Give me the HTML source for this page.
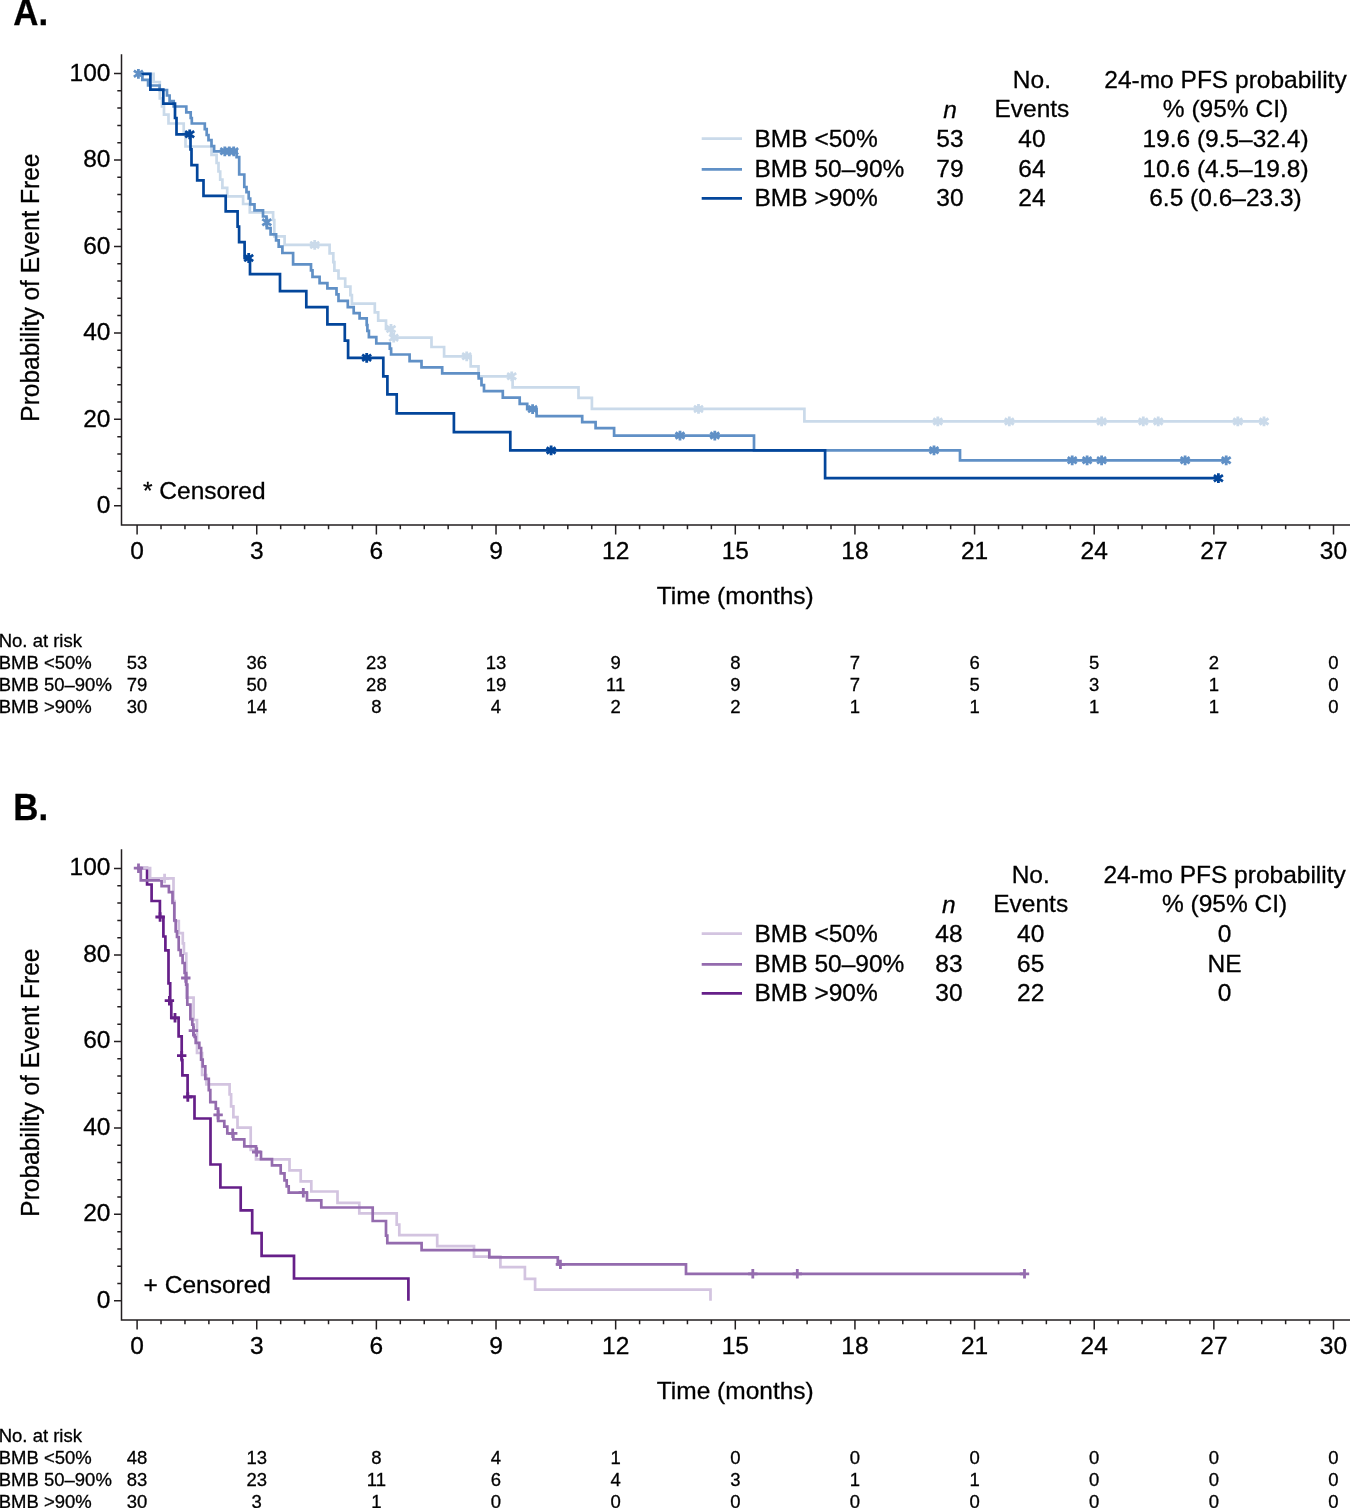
<!DOCTYPE html>
<html><head><meta charset="utf-8"><style>
html,body{margin:0;padding:0;background:#fff;width:1350px;height:1508px;overflow:hidden}
svg{display:block;will-change:transform}
text{fill:#000;stroke:#000;stroke-width:0.3px}
</style></head><body>
<svg width="1350" height="1508" viewBox="0 0 1350 1508">
<text transform="translate(13.2 25.2) scale(0.93 1)" font-size="37.5" font-weight="bold" font-family="Liberation Sans, sans-serif">A.</text>
<path d="M121.5 55.0 V525.0 H1350" fill="none" stroke="#231f20" stroke-width="1.5" stroke-linecap="square"/>
<path d="M114.0 505.80H121.5M117.3 488.51H121.5M117.3 471.22H121.5M117.3 453.92H121.5M117.3 436.63H121.5M114.0 419.34H121.5M117.3 402.05H121.5M117.3 384.76H121.5M117.3 367.46H121.5M117.3 350.17H121.5M114.0 332.88H121.5M117.3 315.59H121.5M117.3 298.30H121.5M117.3 281.00H121.5M117.3 263.71H121.5M114.0 246.42H121.5M117.3 229.13H121.5M117.3 211.84H121.5M117.3 194.54H121.5M117.3 177.25H121.5M114.0 159.96H121.5M117.3 142.67H121.5M117.3 125.38H121.5M117.3 108.08H121.5M117.3 90.79H121.5M114.0 73.50H121.5M137.10 525.0V534.40M161.03 525.0V529.30M184.96 525.0V529.30M208.88 525.0V529.30M232.81 525.0V529.30M256.74 525.0V534.40M280.67 525.0V529.30M304.60 525.0V529.30M328.52 525.0V529.30M352.45 525.0V529.30M376.38 525.0V534.40M400.31 525.0V529.30M424.24 525.0V529.30M448.16 525.0V529.30M472.09 525.0V529.30M496.02 525.0V534.40M519.95 525.0V529.30M543.88 525.0V529.30M567.80 525.0V529.30M591.73 525.0V529.30M615.66 525.0V534.40M639.59 525.0V529.30M663.52 525.0V529.30M687.44 525.0V529.30M711.37 525.0V529.30M735.30 525.0V534.40M759.23 525.0V529.30M783.16 525.0V529.30M807.08 525.0V529.30M831.01 525.0V529.30M854.94 525.0V534.40M878.87 525.0V529.30M902.80 525.0V529.30M926.72 525.0V529.30M950.65 525.0V529.30M974.58 525.0V534.40M998.51 525.0V529.30M1022.44 525.0V529.30M1046.36 525.0V529.30M1070.29 525.0V529.30M1094.22 525.0V534.40M1118.15 525.0V529.30M1142.08 525.0V529.30M1166.00 525.0V529.30M1189.93 525.0V529.30M1213.86 525.0V534.40M1237.79 525.0V529.30M1261.72 525.0V529.30M1285.64 525.0V529.30M1309.57 525.0V529.30M1333.50 525.0V534.40" stroke="#231f20" stroke-width="1.5" fill="none"/>
<text x="110.5" y="513.1" font-size="24.5" text-anchor="end" font-family="Liberation Sans, sans-serif">0</text>
<text x="110.5" y="426.6" font-size="24.5" text-anchor="end" font-family="Liberation Sans, sans-serif">20</text>
<text x="110.5" y="340.2" font-size="24.5" text-anchor="end" font-family="Liberation Sans, sans-serif">40</text>
<text x="110.5" y="253.7" font-size="24.5" text-anchor="end" font-family="Liberation Sans, sans-serif">60</text>
<text x="110.5" y="167.3" font-size="24.5" text-anchor="end" font-family="Liberation Sans, sans-serif">80</text>
<text x="110.5" y="80.8" font-size="24.5" text-anchor="end" font-family="Liberation Sans, sans-serif">100</text>
<text x="137.1" y="558.9" font-size="24.5" text-anchor="middle" font-family="Liberation Sans, sans-serif">0</text>
<text x="256.7" y="558.9" font-size="24.5" text-anchor="middle" font-family="Liberation Sans, sans-serif">3</text>
<text x="376.4" y="558.9" font-size="24.5" text-anchor="middle" font-family="Liberation Sans, sans-serif">6</text>
<text x="496.0" y="558.9" font-size="24.5" text-anchor="middle" font-family="Liberation Sans, sans-serif">9</text>
<text x="615.7" y="558.9" font-size="24.5" text-anchor="middle" font-family="Liberation Sans, sans-serif">12</text>
<text x="735.3" y="558.9" font-size="24.5" text-anchor="middle" font-family="Liberation Sans, sans-serif">15</text>
<text x="854.9" y="558.9" font-size="24.5" text-anchor="middle" font-family="Liberation Sans, sans-serif">18</text>
<text x="974.6" y="558.9" font-size="24.5" text-anchor="middle" font-family="Liberation Sans, sans-serif">21</text>
<text x="1094.2" y="558.9" font-size="24.5" text-anchor="middle" font-family="Liberation Sans, sans-serif">24</text>
<text x="1213.9" y="558.9" font-size="24.5" text-anchor="middle" font-family="Liberation Sans, sans-serif">27</text>
<text x="1333.5" y="558.9" font-size="24.5" text-anchor="middle" font-family="Liberation Sans, sans-serif">30</text>
<text x="735.3" y="604.0" font-size="24.5" text-anchor="middle" font-family="Liberation Sans, sans-serif">Time (months)</text>
<text transform="translate(39.2 287.6) rotate(-90) scale(0.965 1)" font-size="25.4" text-anchor="middle" font-family="Liberation Sans, sans-serif">Probability of Event Free</text>
<text x="143" y="499.1" font-size="24.5" font-family="Liberation Sans, sans-serif">* Censored</text>
<text x="1031.9" y="88" font-size="24.5" text-anchor="middle" font-family="Liberation Sans, sans-serif">No.</text>
<text x="1225.5" y="88" font-size="24.5" text-anchor="middle" font-family="Liberation Sans, sans-serif">24-mo PFS probability</text>
<text x="950" y="117.6" font-size="24.5" text-anchor="middle" font-style="italic" font-family="Liberation Sans, sans-serif">n</text>
<text x="1031.9" y="117.3" font-size="24.5" text-anchor="middle" font-family="Liberation Sans, sans-serif">Events</text>
<text x="1225.5" y="117.3" font-size="24.5" text-anchor="middle" font-family="Liberation Sans, sans-serif">% (95% CI)</text>
<path d="M701.7 138.55H742" stroke="#cadaea" stroke-width="2.7"/>
<text x="754.5" y="147.2" font-size="24.5" font-family="Liberation Sans, sans-serif">BMB &lt;50%</text>
<text x="950" y="147.2" font-size="24.5" text-anchor="middle" font-family="Liberation Sans, sans-serif">53</text>
<text x="1031.9" y="147.2" font-size="24.5" text-anchor="middle" font-family="Liberation Sans, sans-serif">40</text>
<text x="1225.5" y="147.2" font-size="24.5" text-anchor="middle" font-family="Liberation Sans, sans-serif">19.6 (9.5–32.4)</text>
<path d="M701.7 169.45H742" stroke="#6090c6" stroke-width="2.7"/>
<text x="754.5" y="176.6" font-size="24.5" font-family="Liberation Sans, sans-serif">BMB 50–90%</text>
<text x="950" y="176.6" font-size="24.5" text-anchor="middle" font-family="Liberation Sans, sans-serif">79</text>
<text x="1031.9" y="176.6" font-size="24.5" text-anchor="middle" font-family="Liberation Sans, sans-serif">64</text>
<text x="1225.5" y="176.6" font-size="24.5" text-anchor="middle" font-family="Liberation Sans, sans-serif">10.6 (4.5–19.8)</text>
<path d="M701.7 198.30H742" stroke="#03469b" stroke-width="2.7"/>
<text x="754.5" y="205.5" font-size="24.5" font-family="Liberation Sans, sans-serif">BMB &gt;90%</text>
<text x="950" y="205.5" font-size="24.5" text-anchor="middle" font-family="Liberation Sans, sans-serif">30</text>
<text x="1031.9" y="205.5" font-size="24.5" text-anchor="middle" font-family="Liberation Sans, sans-serif">24</text>
<text x="1225.5" y="205.5" font-size="24.5" text-anchor="middle" font-family="Liberation Sans, sans-serif">6.5 (0.6–23.3)</text>
<text x="-1.3" y="646.6" font-size="18.5" font-family="Liberation Sans, sans-serif">No. at risk</text>
<text x="-1.3" y="668.6" font-size="18.5" font-family="Liberation Sans, sans-serif">BMB &lt;50%</text>
<text x="137.1" y="668.6" font-size="18.5" text-anchor="middle" font-family="Liberation Sans, sans-serif">53</text>
<text x="256.7" y="668.6" font-size="18.5" text-anchor="middle" font-family="Liberation Sans, sans-serif">36</text>
<text x="376.4" y="668.6" font-size="18.5" text-anchor="middle" font-family="Liberation Sans, sans-serif">23</text>
<text x="496.0" y="668.6" font-size="18.5" text-anchor="middle" font-family="Liberation Sans, sans-serif">13</text>
<text x="615.7" y="668.6" font-size="18.5" text-anchor="middle" font-family="Liberation Sans, sans-serif">9</text>
<text x="735.3" y="668.6" font-size="18.5" text-anchor="middle" font-family="Liberation Sans, sans-serif">8</text>
<text x="854.9" y="668.6" font-size="18.5" text-anchor="middle" font-family="Liberation Sans, sans-serif">7</text>
<text x="974.6" y="668.6" font-size="18.5" text-anchor="middle" font-family="Liberation Sans, sans-serif">6</text>
<text x="1094.2" y="668.6" font-size="18.5" text-anchor="middle" font-family="Liberation Sans, sans-serif">5</text>
<text x="1213.9" y="668.6" font-size="18.5" text-anchor="middle" font-family="Liberation Sans, sans-serif">2</text>
<text x="1333.5" y="668.6" font-size="18.5" text-anchor="middle" font-family="Liberation Sans, sans-serif">0</text>
<text x="-1.3" y="690.7" font-size="18.5" font-family="Liberation Sans, sans-serif">BMB 50–90%</text>
<text x="137.1" y="690.7" font-size="18.5" text-anchor="middle" font-family="Liberation Sans, sans-serif">79</text>
<text x="256.7" y="690.7" font-size="18.5" text-anchor="middle" font-family="Liberation Sans, sans-serif">50</text>
<text x="376.4" y="690.7" font-size="18.5" text-anchor="middle" font-family="Liberation Sans, sans-serif">28</text>
<text x="496.0" y="690.7" font-size="18.5" text-anchor="middle" font-family="Liberation Sans, sans-serif">19</text>
<text x="615.7" y="690.7" font-size="18.5" text-anchor="middle" font-family="Liberation Sans, sans-serif">11</text>
<text x="735.3" y="690.7" font-size="18.5" text-anchor="middle" font-family="Liberation Sans, sans-serif">9</text>
<text x="854.9" y="690.7" font-size="18.5" text-anchor="middle" font-family="Liberation Sans, sans-serif">7</text>
<text x="974.6" y="690.7" font-size="18.5" text-anchor="middle" font-family="Liberation Sans, sans-serif">5</text>
<text x="1094.2" y="690.7" font-size="18.5" text-anchor="middle" font-family="Liberation Sans, sans-serif">3</text>
<text x="1213.9" y="690.7" font-size="18.5" text-anchor="middle" font-family="Liberation Sans, sans-serif">1</text>
<text x="1333.5" y="690.7" font-size="18.5" text-anchor="middle" font-family="Liberation Sans, sans-serif">0</text>
<text x="-1.3" y="712.6" font-size="18.5" font-family="Liberation Sans, sans-serif">BMB &gt;90%</text>
<text x="137.1" y="712.6" font-size="18.5" text-anchor="middle" font-family="Liberation Sans, sans-serif">30</text>
<text x="256.7" y="712.6" font-size="18.5" text-anchor="middle" font-family="Liberation Sans, sans-serif">14</text>
<text x="376.4" y="712.6" font-size="18.5" text-anchor="middle" font-family="Liberation Sans, sans-serif">8</text>
<text x="496.0" y="712.6" font-size="18.5" text-anchor="middle" font-family="Liberation Sans, sans-serif">4</text>
<text x="615.7" y="712.6" font-size="18.5" text-anchor="middle" font-family="Liberation Sans, sans-serif">2</text>
<text x="735.3" y="712.6" font-size="18.5" text-anchor="middle" font-family="Liberation Sans, sans-serif">2</text>
<text x="854.9" y="712.6" font-size="18.5" text-anchor="middle" font-family="Liberation Sans, sans-serif">1</text>
<text x="974.6" y="712.6" font-size="18.5" text-anchor="middle" font-family="Liberation Sans, sans-serif">1</text>
<text x="1094.2" y="712.6" font-size="18.5" text-anchor="middle" font-family="Liberation Sans, sans-serif">1</text>
<text x="1213.9" y="712.6" font-size="18.5" text-anchor="middle" font-family="Liberation Sans, sans-serif">1</text>
<text x="1333.5" y="712.6" font-size="18.5" text-anchor="middle" font-family="Liberation Sans, sans-serif">0</text>
<path d="M137.1 73.8H153.6V82.0H159.8V98.3H162.0V106.3H164.0V114.6H168.5V123.5H183.7V132.6H185.5V146.5H211.5V154.8H216.6V163.0H218.5V171.5H220.2V179.6H222.4V187.8H227.2V196.3H243.1V204.0H249.8V212.4H273.1V220.0H274.3V236.3H284.6V244.9H329.6V253.3H333.3V262.2H334.4V270.7H338.5V278.5H345.2V286.7H350.4V295.2H351.9V303.6H374.8V312.4H378.2V320.6H386.0V329.0H392.0V337.7H431.5V347.0H444.1V356.3H470.7V366.3H478.5V376.3H512.6V387.3H578.5V397.8H591.9V408.9H804.4V421.4H1264.0" fill="none" stroke="#cadaea" stroke-width="2.7" stroke-linejoin="miter" stroke-linecap="butt"/>
<path d="M137.1 73.8H142.4V79.9H148.1V85.5H159.6V90.0H167.0V95.5H169.6V101.0H173.7V106.5H186.3V112.4H190.7V118.0H191.8V123.5H204.8V129.1H206.7V135.0H208.5V140.2H211.5V146.1H214.1V151.3H236.6V157.2H239.2V174.5H244.3V187.0H246.5V192.2H248.7V198.5H250.2V204.4H254.5V210.4H263.0V216.5H266.5V222.2H266.8V228.1H270.6V234.4H276.1V240.4H278.7V246.7H282.4V253.0H293.1V264.4H311.0V270.4H312.5V276.8H319.6V283.1H327.4V288.3H336.5V294.4H338.5V300.9H347.8V307.2H353.7V313.1H359.6V318.3H366.7V325.0H367.4V330.9H368.9V337.2H376.3V343.5H389.8V348.7H391.1V354.5H409.6V361.1H421.5V367.4H442.2V373.4H478.7V378.5H481.5V385.2H484.0V391.2H502.8V397.6H519.7V403.8H527.2V409.1H536.6V416.2H582.2V422.2H595.6V428.1H614.1V435.6H754.0V450.3H960.0V460.3H1226.2" fill="none" stroke="#6090c6" stroke-width="2.7" stroke-linejoin="miter" stroke-linecap="butt"/>
<path d="M137.1 73.8H150.4V89.6H163.3V103.7H175.0V118.0H176.5V134.3H190.5V149.3H191.5V165.2H197.2V180.4H203.5V195.9H225.7V211.3H237.6V226.7H239.1V242.2H244.6V258.0H250.0V274.2H280.0V291.2H306.3V307.2H327.4V324.3H344.8V340.6H348.1V357.8H383.3V376.3H387.4V394.4H396.7V413.3H453.9V432.2H510.3V450.4H825.1V478.2H1218.4" fill="none" stroke="#03469b" stroke-width="2.7" stroke-linejoin="miter" stroke-linecap="butt"/>
<path d="M314.7 240.0V249.8M310.2 241.8L319.2 248.0M310.2 248.0L319.2 241.8M391.0 324.1V333.9M386.5 325.9L395.5 332.1M386.5 332.1L395.5 325.9M393.7 332.8V342.6M389.2 334.6L398.2 340.8M389.2 340.8L398.2 334.6M466.7 351.4V361.2M462.2 353.2L471.2 359.4M462.2 359.4L471.2 353.2M511.7 371.4V381.2M507.2 373.2L516.2 379.4M507.2 379.4L516.2 373.2M698.5 404.0V413.8M694.0 405.8L703.0 412.0M694.0 412.0L703.0 405.8M937.8 416.5V426.3M933.3 418.3L942.3 424.5M933.3 424.5L942.3 418.3M1009.3 416.5V426.3M1004.8 418.3L1013.8 424.5M1004.8 424.5L1013.8 418.3M1101.6 416.5V426.3M1097.1 418.3L1106.1 424.5M1097.1 424.5L1106.1 418.3M1143.3 416.5V426.3M1138.8 418.3L1147.8 424.5M1138.8 424.5L1147.8 418.3M1158.2 416.5V426.3M1153.7 418.3L1162.7 424.5M1153.7 424.5L1162.7 418.3M1237.8 416.5V426.3M1233.3 418.3L1242.3 424.5M1233.3 424.5L1242.3 418.3M1264.0 416.5V426.3M1259.5 418.3L1268.5 424.5M1259.5 424.5L1268.5 418.3" fill="none" stroke="#cadaea" stroke-width="2.8"/>
<path d="M138.4 68.9V78.7M133.9 70.7L142.9 76.9M133.9 76.9L142.9 70.7M224.8 146.4V156.2M220.3 148.2L229.3 154.4M220.3 154.4L229.3 148.2M229.3 146.4V156.2M224.8 148.2L233.8 154.4M224.8 154.4L233.8 148.2M233.7 146.4V156.2M229.2 148.2L238.2 154.4M229.2 154.4L238.2 148.2M266.8 217.4V227.2M262.3 219.2L271.3 225.4M262.3 225.4L271.3 219.2M532.6 404.2V414.0M528.1 406.0L537.1 412.2M528.1 412.2L537.1 406.0M680.0 430.7V440.5M675.5 432.5L684.5 438.7M675.5 438.7L684.5 432.5M714.8 430.7V440.5M710.3 432.5L719.3 438.7M710.3 438.7L719.3 432.5M934.0 445.4V455.2M929.5 447.2L938.5 453.4M929.5 453.4L938.5 447.2M1072.2 455.4V465.2M1067.7 457.2L1076.7 463.4M1067.7 463.4L1076.7 457.2M1087.1 455.4V465.2M1082.6 457.2L1091.6 463.4M1082.6 463.4L1091.6 457.2M1101.6 455.4V465.2M1097.1 457.2L1106.1 463.4M1097.1 463.4L1106.1 457.2M1185.1 455.4V465.2M1180.6 457.2L1189.6 463.4M1180.6 463.4L1189.6 457.2M1226.2 455.4V465.2M1221.7 457.2L1230.7 463.4M1221.7 463.4L1230.7 457.2" fill="none" stroke="#6090c6" stroke-width="2.8"/>
<path d="M189.7 129.4V139.2M185.2 131.2L194.2 137.4M185.2 137.4L194.2 131.2M248.7 253.1V262.9M244.2 254.9L253.2 261.1M244.2 261.1L253.2 254.9M366.7 352.9V362.7M362.2 354.7L371.2 360.9M362.2 360.9L371.2 354.7M551.1 445.5V455.3M546.6 447.3L555.6 453.5M546.6 453.5L555.6 447.3M1218.4 473.3V483.1M1213.9 475.1L1222.9 481.3M1213.9 481.3L1222.9 475.1" fill="none" stroke="#03469b" stroke-width="2.8"/>
<text transform="translate(13.2 820.2) scale(0.93 1)" font-size="37.5" font-weight="bold" font-family="Liberation Sans, sans-serif">B.</text>
<path d="M121.5 850.0 V1320.0 H1350" fill="none" stroke="#231f20" stroke-width="1.5" stroke-linecap="square"/>
<path d="M114.0 1300.80H121.5M117.3 1283.51H121.5M117.3 1266.22H121.5M117.3 1248.92H121.5M117.3 1231.63H121.5M114.0 1214.34H121.5M117.3 1197.05H121.5M117.3 1179.76H121.5M117.3 1162.46H121.5M117.3 1145.17H121.5M114.0 1127.88H121.5M117.3 1110.59H121.5M117.3 1093.30H121.5M117.3 1076.00H121.5M117.3 1058.71H121.5M114.0 1041.42H121.5M117.3 1024.13H121.5M117.3 1006.84H121.5M117.3 989.54H121.5M117.3 972.25H121.5M114.0 954.96H121.5M117.3 937.67H121.5M117.3 920.38H121.5M117.3 903.08H121.5M117.3 885.79H121.5M114.0 868.50H121.5M137.10 1320.0V1329.40M161.03 1320.0V1324.30M184.96 1320.0V1324.30M208.88 1320.0V1324.30M232.81 1320.0V1324.30M256.74 1320.0V1329.40M280.67 1320.0V1324.30M304.60 1320.0V1324.30M328.52 1320.0V1324.30M352.45 1320.0V1324.30M376.38 1320.0V1329.40M400.31 1320.0V1324.30M424.24 1320.0V1324.30M448.16 1320.0V1324.30M472.09 1320.0V1324.30M496.02 1320.0V1329.40M519.95 1320.0V1324.30M543.88 1320.0V1324.30M567.80 1320.0V1324.30M591.73 1320.0V1324.30M615.66 1320.0V1329.40M639.59 1320.0V1324.30M663.52 1320.0V1324.30M687.44 1320.0V1324.30M711.37 1320.0V1324.30M735.30 1320.0V1329.40M759.23 1320.0V1324.30M783.16 1320.0V1324.30M807.08 1320.0V1324.30M831.01 1320.0V1324.30M854.94 1320.0V1329.40M878.87 1320.0V1324.30M902.80 1320.0V1324.30M926.72 1320.0V1324.30M950.65 1320.0V1324.30M974.58 1320.0V1329.40M998.51 1320.0V1324.30M1022.44 1320.0V1324.30M1046.36 1320.0V1324.30M1070.29 1320.0V1324.30M1094.22 1320.0V1329.40M1118.15 1320.0V1324.30M1142.08 1320.0V1324.30M1166.00 1320.0V1324.30M1189.93 1320.0V1324.30M1213.86 1320.0V1329.40M1237.79 1320.0V1324.30M1261.72 1320.0V1324.30M1285.64 1320.0V1324.30M1309.57 1320.0V1324.30M1333.50 1320.0V1329.40" stroke="#231f20" stroke-width="1.5" fill="none"/>
<text x="110.5" y="1307.6" font-size="24.5" text-anchor="end" font-family="Liberation Sans, sans-serif">0</text>
<text x="110.5" y="1221.1" font-size="24.5" text-anchor="end" font-family="Liberation Sans, sans-serif">20</text>
<text x="110.5" y="1134.7" font-size="24.5" text-anchor="end" font-family="Liberation Sans, sans-serif">40</text>
<text x="110.5" y="1048.2" font-size="24.5" text-anchor="end" font-family="Liberation Sans, sans-serif">60</text>
<text x="110.5" y="961.8" font-size="24.5" text-anchor="end" font-family="Liberation Sans, sans-serif">80</text>
<text x="110.5" y="875.3" font-size="24.5" text-anchor="end" font-family="Liberation Sans, sans-serif">100</text>
<text x="137.1" y="1353.9" font-size="24.5" text-anchor="middle" font-family="Liberation Sans, sans-serif">0</text>
<text x="256.7" y="1353.9" font-size="24.5" text-anchor="middle" font-family="Liberation Sans, sans-serif">3</text>
<text x="376.4" y="1353.9" font-size="24.5" text-anchor="middle" font-family="Liberation Sans, sans-serif">6</text>
<text x="496.0" y="1353.9" font-size="24.5" text-anchor="middle" font-family="Liberation Sans, sans-serif">9</text>
<text x="615.7" y="1353.9" font-size="24.5" text-anchor="middle" font-family="Liberation Sans, sans-serif">12</text>
<text x="735.3" y="1353.9" font-size="24.5" text-anchor="middle" font-family="Liberation Sans, sans-serif">15</text>
<text x="854.9" y="1353.9" font-size="24.5" text-anchor="middle" font-family="Liberation Sans, sans-serif">18</text>
<text x="974.6" y="1353.9" font-size="24.5" text-anchor="middle" font-family="Liberation Sans, sans-serif">21</text>
<text x="1094.2" y="1353.9" font-size="24.5" text-anchor="middle" font-family="Liberation Sans, sans-serif">24</text>
<text x="1213.9" y="1353.9" font-size="24.5" text-anchor="middle" font-family="Liberation Sans, sans-serif">27</text>
<text x="1333.5" y="1353.9" font-size="24.5" text-anchor="middle" font-family="Liberation Sans, sans-serif">30</text>
<text x="735.3" y="1399.0" font-size="24.5" text-anchor="middle" font-family="Liberation Sans, sans-serif">Time (months)</text>
<text transform="translate(39.2 1082.6) rotate(-90) scale(0.965 1)" font-size="25.4" text-anchor="middle" font-family="Liberation Sans, sans-serif">Probability of Event Free</text>
<text x="143.6" y="1292.7" font-size="24.5" font-family="Liberation Sans, sans-serif">+ Censored</text>
<text x="1030.7" y="883" font-size="24.5" text-anchor="middle" font-family="Liberation Sans, sans-serif">No.</text>
<text x="1224.6" y="883" font-size="24.5" text-anchor="middle" font-family="Liberation Sans, sans-serif">24-mo PFS probability</text>
<text x="948.9" y="912.6" font-size="24.5" text-anchor="middle" font-style="italic" font-family="Liberation Sans, sans-serif">n</text>
<text x="1030.7" y="912.3" font-size="24.5" text-anchor="middle" font-family="Liberation Sans, sans-serif">Events</text>
<text x="1224.6" y="912.3" font-size="24.5" text-anchor="middle" font-family="Liberation Sans, sans-serif">% (95% CI)</text>
<path d="M701.7 933.55H742" stroke="#d3c4e0" stroke-width="2.7"/>
<text x="754.5" y="942.2" font-size="24.5" font-family="Liberation Sans, sans-serif">BMB &lt;50%</text>
<text x="948.9" y="942.2" font-size="24.5" text-anchor="middle" font-family="Liberation Sans, sans-serif">48</text>
<text x="1030.7" y="942.2" font-size="24.5" text-anchor="middle" font-family="Liberation Sans, sans-serif">40</text>
<text x="1224.6" y="942.2" font-size="24.5" text-anchor="middle" font-family="Liberation Sans, sans-serif">0</text>
<path d="M701.7 964.45H742" stroke="#946bae" stroke-width="2.7"/>
<text x="754.5" y="971.6" font-size="24.5" font-family="Liberation Sans, sans-serif">BMB 50–90%</text>
<text x="948.9" y="971.6" font-size="24.5" text-anchor="middle" font-family="Liberation Sans, sans-serif">83</text>
<text x="1030.7" y="971.6" font-size="24.5" text-anchor="middle" font-family="Liberation Sans, sans-serif">65</text>
<text x="1224.6" y="971.6" font-size="24.5" text-anchor="middle" font-family="Liberation Sans, sans-serif">NE</text>
<path d="M701.7 993.30H742" stroke="#661f89" stroke-width="2.7"/>
<text x="754.5" y="1000.5" font-size="24.5" font-family="Liberation Sans, sans-serif">BMB &gt;90%</text>
<text x="948.9" y="1000.5" font-size="24.5" text-anchor="middle" font-family="Liberation Sans, sans-serif">30</text>
<text x="1030.7" y="1000.5" font-size="24.5" text-anchor="middle" font-family="Liberation Sans, sans-serif">22</text>
<text x="1224.6" y="1000.5" font-size="24.5" text-anchor="middle" font-family="Liberation Sans, sans-serif">0</text>
<text x="-1.3" y="1441.6" font-size="18.5" font-family="Liberation Sans, sans-serif">No. at risk</text>
<text x="-1.3" y="1463.6" font-size="18.5" font-family="Liberation Sans, sans-serif">BMB &lt;50%</text>
<text x="137.1" y="1463.6" font-size="18.5" text-anchor="middle" font-family="Liberation Sans, sans-serif">48</text>
<text x="256.7" y="1463.6" font-size="18.5" text-anchor="middle" font-family="Liberation Sans, sans-serif">13</text>
<text x="376.4" y="1463.6" font-size="18.5" text-anchor="middle" font-family="Liberation Sans, sans-serif">8</text>
<text x="496.0" y="1463.6" font-size="18.5" text-anchor="middle" font-family="Liberation Sans, sans-serif">4</text>
<text x="615.7" y="1463.6" font-size="18.5" text-anchor="middle" font-family="Liberation Sans, sans-serif">1</text>
<text x="735.3" y="1463.6" font-size="18.5" text-anchor="middle" font-family="Liberation Sans, sans-serif">0</text>
<text x="854.9" y="1463.6" font-size="18.5" text-anchor="middle" font-family="Liberation Sans, sans-serif">0</text>
<text x="974.6" y="1463.6" font-size="18.5" text-anchor="middle" font-family="Liberation Sans, sans-serif">0</text>
<text x="1094.2" y="1463.6" font-size="18.5" text-anchor="middle" font-family="Liberation Sans, sans-serif">0</text>
<text x="1213.9" y="1463.6" font-size="18.5" text-anchor="middle" font-family="Liberation Sans, sans-serif">0</text>
<text x="1333.5" y="1463.6" font-size="18.5" text-anchor="middle" font-family="Liberation Sans, sans-serif">0</text>
<text x="-1.3" y="1485.7" font-size="18.5" font-family="Liberation Sans, sans-serif">BMB 50–90%</text>
<text x="137.1" y="1485.7" font-size="18.5" text-anchor="middle" font-family="Liberation Sans, sans-serif">83</text>
<text x="256.7" y="1485.7" font-size="18.5" text-anchor="middle" font-family="Liberation Sans, sans-serif">23</text>
<text x="376.4" y="1485.7" font-size="18.5" text-anchor="middle" font-family="Liberation Sans, sans-serif">11</text>
<text x="496.0" y="1485.7" font-size="18.5" text-anchor="middle" font-family="Liberation Sans, sans-serif">6</text>
<text x="615.7" y="1485.7" font-size="18.5" text-anchor="middle" font-family="Liberation Sans, sans-serif">4</text>
<text x="735.3" y="1485.7" font-size="18.5" text-anchor="middle" font-family="Liberation Sans, sans-serif">3</text>
<text x="854.9" y="1485.7" font-size="18.5" text-anchor="middle" font-family="Liberation Sans, sans-serif">1</text>
<text x="974.6" y="1485.7" font-size="18.5" text-anchor="middle" font-family="Liberation Sans, sans-serif">1</text>
<text x="1094.2" y="1485.7" font-size="18.5" text-anchor="middle" font-family="Liberation Sans, sans-serif">0</text>
<text x="1213.9" y="1485.7" font-size="18.5" text-anchor="middle" font-family="Liberation Sans, sans-serif">0</text>
<text x="1333.5" y="1485.7" font-size="18.5" text-anchor="middle" font-family="Liberation Sans, sans-serif">0</text>
<text x="-1.3" y="1507.6" font-size="18.5" font-family="Liberation Sans, sans-serif">BMB &gt;90%</text>
<text x="137.1" y="1507.6" font-size="18.5" text-anchor="middle" font-family="Liberation Sans, sans-serif">30</text>
<text x="256.7" y="1507.6" font-size="18.5" text-anchor="middle" font-family="Liberation Sans, sans-serif">3</text>
<text x="376.4" y="1507.6" font-size="18.5" text-anchor="middle" font-family="Liberation Sans, sans-serif">1</text>
<text x="496.0" y="1507.6" font-size="18.5" text-anchor="middle" font-family="Liberation Sans, sans-serif">0</text>
<text x="615.7" y="1507.6" font-size="18.5" text-anchor="middle" font-family="Liberation Sans, sans-serif">0</text>
<text x="735.3" y="1507.6" font-size="18.5" text-anchor="middle" font-family="Liberation Sans, sans-serif">0</text>
<text x="854.9" y="1507.6" font-size="18.5" text-anchor="middle" font-family="Liberation Sans, sans-serif">0</text>
<text x="974.6" y="1507.6" font-size="18.5" text-anchor="middle" font-family="Liberation Sans, sans-serif">0</text>
<text x="1094.2" y="1507.6" font-size="18.5" text-anchor="middle" font-family="Liberation Sans, sans-serif">0</text>
<text x="1213.9" y="1507.6" font-size="18.5" text-anchor="middle" font-family="Liberation Sans, sans-serif">0</text>
<text x="1333.5" y="1507.6" font-size="18.5" text-anchor="middle" font-family="Liberation Sans, sans-serif">0</text>
<path d="M137.1 868.2H147.1V884.5H151.6V901.0H159.9V917.0H163.4V936.5H165.4V950.4H168.5V983.3H170.2V1003.3H171.3V1017.8H178.6V1036.3H181.7V1060.2H182.4V1075.3H187.6V1096.5H194.5V1118.5H210.5V1164.5H220.4V1187.5H240.7V1210.3H252.2V1233.1H261.6V1255.9H294.0V1278.5H408.4V1300.8" fill="none" stroke="#661f89" stroke-width="2.7" stroke-linejoin="miter" stroke-linecap="butt"/>
<path d="M137.1 868.2H150.1V878.3H173.5V901.0H174.4V921.0H178.8V933.2H182.8V943.3H183.9V953.6H186.3V997.6H193.6V1020.0H197.0V1053.0H202.1V1075.0H206.3V1084.4H229.6V1094.4H231.1V1106.4H233.4V1117.2H237.5V1127.6H250.7V1150.0H256.0V1159.3H289.5V1170.3H300.7V1181.3H311.3V1191.5H337.5V1202.9H359.3V1213.4H396.7V1224.6H399.3V1235.2H437.2V1246.2H474.0V1256.7H500.4V1267.1H524.9V1278.9H535.1V1289.6H710.5V1300.8" fill="none" stroke="#d3c4e0" stroke-width="2.7" stroke-linejoin="miter" stroke-linecap="butt"/>
<path d="M137.1 868.2H140.8V880.4H161.6V886.2H168.9V892.1H172.5V903.0H174.3V920.3H175.7V931.4H177.0V937.0H178.7V950.0H180.6V955.3H182.6V963.0H184.6V973.0H186.2V984.7H187.3V1004.7H190.4V1019.2H192.3V1024.6H193.4V1035.2H194.6V1037.0H195.7V1042.8H199.3V1048.0H201.1V1059.7H202.7V1066.4H205.3V1078.8H208.8V1090.2H210.3V1102.2H215.8V1108.7H218.1V1121.0H224.3V1126.6H227.3V1133.3H233.3V1139.3H244.3V1146.3H256.0V1152.0H261.0V1159.2H272.0V1165.3H280.7V1173.3H284.5V1180.3H286.7V1186.3H288.7V1192.7H307.0V1200.3H321.3V1207.5H372.7V1221.0H386.0V1235.7H387.3V1243.2H421.6V1250.2H489.3V1257.3H557.8V1264.4H686.0V1273.8H1024.5" fill="none" stroke="#946bae" stroke-width="2.7" stroke-linejoin="miter" stroke-linecap="butt"/>
<path d="M155.4 917.0H164.8M160.1 912.3V921.7M164.7 1000.7H174.1M169.4 996.0V1005.4M170.3 1017.8H179.7M175.0 1013.1V1022.5M177.0 1055.6H186.4M181.7 1050.9V1060.3M183.1 1097.0H192.5M187.8 1092.3V1101.7" fill="none" stroke="#661f89" stroke-width="2.8"/>
<path d="M159.9 878.5H169.3M164.6 873.8V883.2" fill="none" stroke="#d3c4e0" stroke-width="2.8"/>
<path d="M133.8 868.2H143.2M138.5 863.5V872.9M181.1 978.0H190.5M185.8 973.3V982.7M188.7 1030.6H198.1M193.4 1025.9V1035.3M213.4 1114.9H222.8M218.1 1110.2V1119.6M228.0 1133.3H237.4M232.7 1128.6V1138.0M252.0 1152.0H261.4M256.7 1147.3V1156.7M298.6 1192.7H308.0M303.3 1188.0V1197.4M555.7 1264.4H565.1M560.4 1259.7V1269.1M748.1 1273.8H757.5M752.8 1269.1V1278.5M792.6 1273.8H802.0M797.3 1269.1V1278.5M1019.8 1273.8H1029.2M1024.5 1269.1V1278.5" fill="none" stroke="#946bae" stroke-width="2.8"/>
</svg>
</body></html>
